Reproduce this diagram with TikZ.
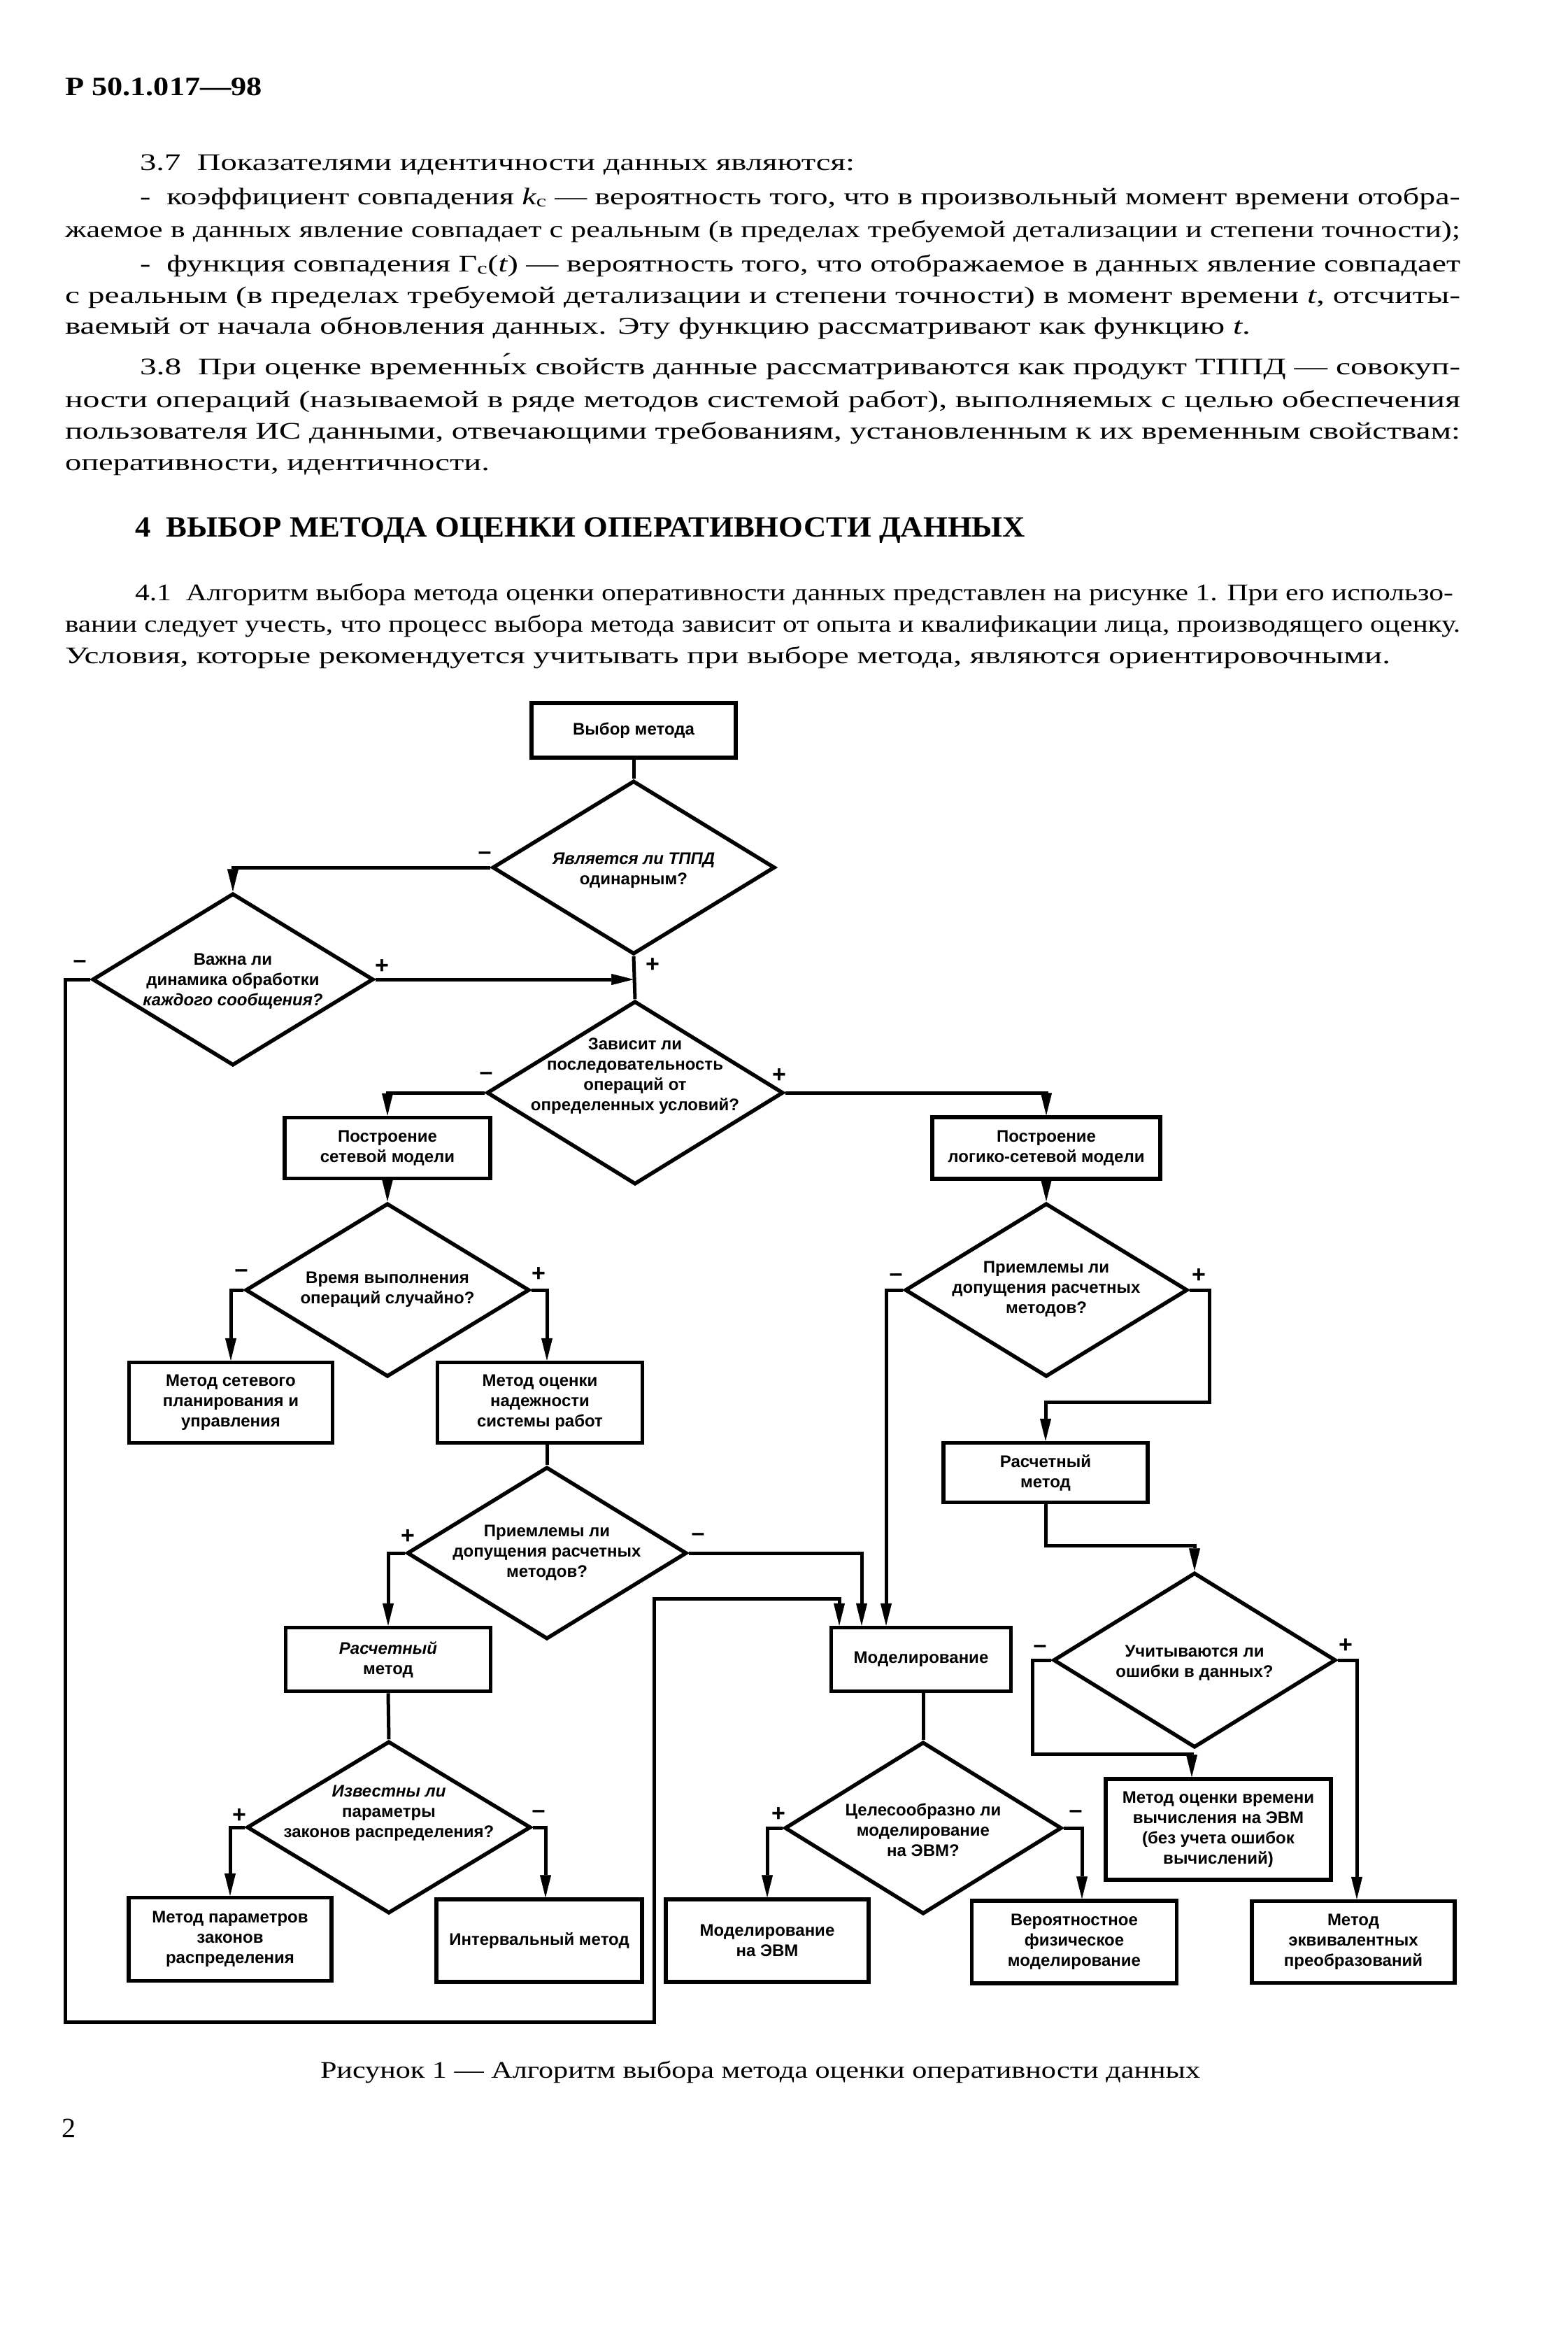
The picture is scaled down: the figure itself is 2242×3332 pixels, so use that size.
\documentclass[tikz,border=0pt]{standalone}
\usepackage{fontspec}
\setmainfont{Liberation Serif}
\newfontfamily\fcsans{Liberation Sans}
\usepackage{graphicx}
\usetikzlibrary{shapes.geometric,arrows.meta}
\newcommand{\bodyf}{\fontsize{34}{34}\selectfont}
\newcommand{\jline}[2]{\resizebox{#1pt}{\height}{#2}}
\begin{document}
\begin{tikzpicture}[x=1pt,y=-1pt,
  box/.style={draw, line width=5.5pt, inner sep=2pt, align=center, font=\fcsans\bfseries\fontsize{24}{29}\selectfont},
  dia/.style={draw, diamond, line width=5.5pt, inner sep=0pt},
  dtxt/.style={align=center, inner sep=0pt, font=\fcsans\bfseries\fontsize{24}{29}\selectfont},
  lab/.style={inner sep=0pt, font=\fcsans\bfseries\fontsize{34}{34}\selectfont},
  ln/.style={line width=5pt},
  arr/.style={ln, -{Triangle[length=32pt,width=16pt,line width=0.5pt]}},
  tl/.style={anchor=base west, inner sep=0pt, outer sep=0pt, font=\bodyf}]
\useasboundingbox[fill=white] (0,0) rectangle (2242,3332);

% ---------- text of the page ----------
\node[tl] (h0) at (93,136) {\fontsize{38}{38}\selectfont\bfseries\jline{282}{Р 50.1.017—98}};
\node[tl] (l1) at (200,243) {\jline{1022}{3.7\ \ Показателями идентичности данных являются:}};
\node[tl] (l2) at (200,292) {\jline{1888}{-\ \ коэффициент совпадения {\itshape k}\textsubscript{c} — вероятность того, что в произвольный момент времени отобра-}};
\node[tl] (l3) at (93,339) {\jline{1995}{жаемое в данных явление совпадает с реальным (в пределах требуемой детализации и степени точности);}};
\node[tl] (l4) at (200,388) {\jline{1888}{-\ \ функция совпадения Γ\textsubscript{c}({\itshape t}) — вероятность того, что отображаемое в данных явление совпадает}};
\node[tl] (l5) at (93,433) {\jline{1995}{с реальным (в пределах требуемой детализации и степени точности) в момент времени {\itshape t}, отсчиты-}};
\node[tl] (l6) at (93,477) {\jline{1695}{ваемый от начала обновления данных. Эту функцию рассматривают как функцию {\itshape t}.}};
\node[tl] (l7) at (200,535) {\jline{1888}{3.8\ \ При оценке временны́х свойств данные рассматриваются как продукт ТППД — совокуп-}};
\node[tl] (l8) at (93,582) {\jline{1995}{ности операций (называемой в ряде методов системой работ), выполняемых с целью обеспечения}};
\node[tl] (l9) at (93,627) {\jline{1995}{пользователя ИС данными, отвечающими требованиям, установленным к их временным свойствам:}};
\node[tl] (l10) at (93,672) {\jline{607}{оперативности, идентичности.}};
\node[tl] (hd) at (193,767) {\fontsize{42}{42}\selectfont\bfseries\jline{1273}{4\ \ ВЫБОР МЕТОДА ОЦЕНКИ ОПЕРАТИВНОСТИ ДАННЫХ}};
\node[tl] (l11) at (193,858) {\jline{1885}{4.1\ \ Алгоритм выбора метода оценки оперативности данных представлен на рисунке 1. При его использо-}};
\node[tl] (l12) at (93,903) {\jline{1995}{вании следует учесть, что процесс выбора метода зависит от опыта и квалификации лица, производящего оценку.}};
\node[tl] (l13) at (93,948) {\jline{1895}{Условия, которые рекомендуется учитывать при выборе метода, являются ориентировочными.}};
\node[tl] (cap) at (458,2970) {\jline{1258}{Рисунок 1 — Алгоритм выбора метода оценки оперативности данных}};
\node[tl] (pg) at (88,3055) {\fontsize{40}{40}\selectfont 2};

% ---------- boxes ----------
\node[box, minimum width=292pt, minimum height=78pt] (b0) at (906,1044) {Выбор метода};
\node[box, minimum width=294pt, minimum height=87pt] (b1) at (554,1641) {Построение\\сетевой модели};
\node[box, minimum width=326pt, minimum height=88pt] (b2) at (1496,1641) {Построение\\логико-сетевой модели};
\node[box, minimum width=291pt, minimum height=115pt] (b3) at (330,2005) {Метод сетевого\\планирования и\\управления};
\node[box, minimum width=293pt, minimum height=115pt] (b4) at (772,2005) {Метод оценки\\надежности\\системы работ};
\node[box, minimum width=293pt, minimum height=91pt] (b5) at (555,2372) {{\itshape Расчетный}\\метод};
\node[box, minimum width=292pt, minimum height=85pt] (b6) at (1495,2105) {Расчетный\\метод};
\node[box, minimum width=257pt, minimum height=91pt] (b7) at (1317,2372) {Моделирование};
\node[box, minimum width=290pt, minimum height=119pt] (b8) at (329,2772) {Метод параметров\\законов\\распределения};
\node[box, minimum width=294pt, minimum height=118pt] (b9) at (771,2774) {Интервальный метод};
\node[box, minimum width=290pt, minimum height=118pt] (b10) at (1097,2774) {Моделирование\\на ЭВМ};
\node[box, minimum width=293pt, minimum height=118pt] (b11) at (1536,2776) {Вероятностное\\физическое\\моделирование};
\node[box, minimum width=322pt, minimum height=144pt] (b12) at (1742,2615) {Метод оценки времени\\вычисления на ЭВМ\\(без учета ошибок\\вычислений)};
\node[box, minimum width=290pt, minimum height=117pt] (b13) at (1935,2776) {Метод\\эквивалентных\\преобразований};

% ---------- diamonds ----------
\node[dia, minimum width=404pt, minimum height=248pt] (d1) at (906,1240) {};
\node[dtxt] (d1t) at (906,1244) {{\itshape Является ли ТППД}\\одинарным?};
\node[dia, minimum width=402pt, minimum height=246pt] (d2) at (333,1400) {};
\node[dtxt] (d2t) at (333,1403) {Важна ли\\динамика обработки\\{\itshape каждого сообщения?}};
\node[dia, minimum width=424pt, minimum height=262pt] (d3) at (908,1562) {};
\node[dtxt] (d3t) at (908,1538) {Зависит ли\\последовательность\\операций от\\определенных условий?};
\node[dia, minimum width=406pt, minimum height=248pt] (d4) at (554,1844) {};
\node[dtxt] (d4t) at (554,1843) {Время выполнения\\операций случайно?};
\node[dia, minimum width=404pt, minimum height=248pt] (d7) at (1496,1844) {};
\node[dtxt] (d7t) at (1496,1843) {Приемлемы ли\\допущения расчетных\\методов?};
\node[dia, minimum width=400pt, minimum height=246pt] (d5) at (782,2220) {};
\node[dtxt] (d5t) at (782,2220) {Приемлемы ли\\допущения расчетных\\методов?};
\node[dia, minimum width=404pt, minimum height=250pt] (d9) at (1708,2373) {};
\node[dtxt] (d9t) at (1708,2377) {Учитываются ли\\ошибки в данных?};
\node[dia, minimum width=406pt, minimum height=246pt] (d6) at (556,2612) {};
\node[dtxt] (d6t) at (556,2592) {{\itshape Известны ли}\\параметры\\законов распределения?};
\node[dia, minimum width=396pt, minimum height=246pt] (d8) at (1320,2613) {};
\node[dtxt] (d8t) at (1320,2616) {Целесообразно ли\\моделирование\\на ЭВМ?};

% ---------- branch labels ----------
\node[lab] (m1) at (693,1223) {–};
\node[lab] (p1) at (933,1380) {+};
\node[lab] (m2) at (114,1378) {–};
\node[lab] (p2) at (546,1382) {+};
\node[lab] (m3) at (695,1538) {–};
\node[lab] (p3) at (1114,1538) {+};
\node[lab] (m4) at (345,1820) {–};
\node[lab] (p4) at (770,1822) {+};
\node[lab] (m7) at (1281,1826) {–};
\node[lab] (p7) at (1714,1824) {+};
\node[lab] (p5) at (583,2197) {+};
\node[lab] (m5) at (998,2197) {–};
\node[lab] (m9) at (1487,2357) {–};
\node[lab] (p9) at (1924,2353) {+};
\node[lab] (p6) at (342,2595) {+};
\node[lab] (m6) at (770,2593) {–};
\node[lab] (p8) at (1113,2593) {+};
\node[lab] (m8) at (1538,2593) {–};

% ---------- helper coordinates ----------
\coordinate (lpA) at (93,2890);
\coordinate (lpB) at (935,2285);
\coordinate (x1200) at (1200,0);
\coordinate (x1232) at (1232,0);
\coordinate (x1267) at (1267,0);
\coordinate (x1320) at (1320,0);
\coordinate (x782) at (782,0);
\coordinate (x780) at (780,0);
\coordinate (x1547) at (1547,0);
\coordinate (x1704) at (1704,0);
\coordinate (x1940) at (1940,0);
\coordinate (pR) at (1729,2004);
\coordinate (pS) at (1600,2209);
\coordinate (pT) at (1476,2507);

% ---------- connectors ----------
\draw[ln] (b0.south) -- (d1.north);
\draw[arr] (d1.west) -| (d2.north);
\draw[ln] (d1.south) -- (d3.north);
\draw[arr] (d2.east) -- (d2.east -| d1.south);
\draw[arr] (d2.west) -| (lpA) -| (lpB) -| (x1200 |- b7.north);
\draw[arr] (d3.west) -| (b1.north);
\draw[arr] (d3.east) -| (b2.north);
\draw[arr] (b1.south) -- (d4.north);
\draw[arr] (d4.west) -| (b3.north);
\draw[arr] (d4.east) -| (x782 |- b4.north);
\draw[ln] (x782 |- b4.south) -- (d5.north);
\draw[arr] (d5.west) -| (b5.north);
\draw[arr] (d5.east) -| (x1232 |- b7.north);
\draw[ln] (b5.south) -- (d6.north);
\draw[arr] (d6.west) -| (b8.north);
\draw[arr] (d6.east) -| (x780 |- b9.north);
\draw[arr] (b2.south) -- (d7.north);
\draw[arr] (d7.west) -| (x1267 |- b7.north);
\draw[arr] (d7.east) -| (pR) -| (b6.north);
\draw[arr] (b6.south) |- (pS) -| (d9.north);
\draw[ln] (x1320 |- b7.south) -- (d8.north);
\draw[arr] (d8.west) -| (b10.north);
\draw[arr] (d8.east) -| (x1547 |- b11.north);
\draw[arr] (d9.west) -| (pT) -| (x1704 |- b12.north);
\draw[arr] (d9.east) -| (x1940 |- b13.north);
\end{tikzpicture}
\end{document}
